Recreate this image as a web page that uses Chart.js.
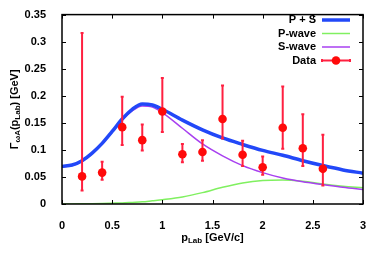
<!DOCTYPE html>
<html>
<head>
<meta charset="utf-8">
<script src="https://cdn.jsdelivr.net/npm/chart.js@4/dist/chart.umd.min.js"></script>
<style>body{margin:0;background:#fff}</style>
</head>
<body>
<canvas id="chart" width="381" height="260"></canvas>
<script>
const CHART = document.getElementById("chart");

// measured points
const pLab = [0.2, 0.4, 0.6, 0.8, 1.0, 1.2, 1.4, 1.6, 1.8, 2.0, 2.2, 2.4, 2.6];
const width = [0.051, 0.058, 0.142, 0.118, 0.171, 0.092, 0.096, 0.157, 0.091, 0.068, 0.141, 0.103, 0.065];
const errLow = [0.025, 0.045, 0.109, 0.099, 0.133, 0.077, 0.080, 0.121, 0.070, 0.054, 0.102, 0.070, 0.034];
const errHigh = [0.316, 0.078, 0.198, 0.147, 0.233, 0.111, 0.118, 0.219, 0.117, 0.088, 0.217, 0.166, 0.128];

// model curves
const pCurve = [0, 0.1, 0.2, 0.3, 0.4, 0.5, 0.6, 0.7, 0.8, 0.9, 1.0, 1.2, 1.4, 1.6, 1.8, 2.0, 2.2, 2.4, 2.6, 2.8, 3.0];
const sumWave = [0.0695, 0.072, 0.080, 0.094, 0.112, 0.134, 0.157, 0.175, 0.185, 0.183, 0.175, 0.155, 0.137, 0.122, 0.110, 0.099, 0.090, 0.080, 0.071, 0.063, 0.057];
const pWave = [0, 0.0001, 0.0003, 0.0006, 0.001, 0.0015, 0.002, 0.003, 0.004, 0.006, 0.008, 0.013, 0.021, 0.031, 0.039, 0.0435, 0.0445, 0.042, 0.037, 0.033, 0.030];
const sWave = [0.069, 0.071, 0.079, 0.093, 0.111, 0.133, 0.155, 0.172, 0.181, 0.179, 0.169, 0.140, 0.111, 0.089, 0.071, 0.058, 0.048, 0.041, 0.036, 0.031, 0.027];

const xTicks = [0, 0.5, 1, 1.5, 2, 2.5, 3];
const yTicks = [0, 0.05, 0.1, 0.15, 0.2, 0.25, 0.3, 0.35];

const BLUE = '#2248f8', GREEN = '#80f060', PURPLE = '#a840f0', RED = '#ff0a0a', BAR = '#ff2040';
const FONT = '"Liberation Sans", Arial, sans-serif';

const pts = (xs, ys) => xs.map((x, i) => ({x: x, y: ys[i]}));

function drawRuns(ctx, runs, cx, cy) {
  let total = 0;
  runs.forEach(r => {
    ctx.font = (r.sub ? 'bold 8px ' : 'bold 11px ') + FONT;
    r.w = ctx.measureText(r.t).width;
    total += r.w;
  });
  let x = cx - total / 2;
  ctx.textAlign = 'left';
  ctx.textBaseline = 'middle';
  runs.forEach(r => {
    ctx.font = (r.sub ? 'bold 8px ' : 'bold 11px ') + FONT;
    ctx.fillText(r.t, x, cy + (r.sub ? 3 : 0));
    x += r.w;
  });
}

const extras = {
  id: 'extras',
  beforeDatasetDraw(chart, args) {
    if (args.index !== 3) return;
    const xs = chart.scales.x, ys = chart.scales.y, ctx = chart.ctx;
    ctx.save();
    ctx.strokeStyle = BAR;
    ctx.lineWidth = 2;
    pLab.forEach((p, i) => {
      const px = xs.getPixelForValue(p);
      const lo = ys.getPixelForValue(errLow[i]), hi = ys.getPixelForValue(errHigh[i]);
      ctx.beginPath();
      ctx.moveTo(px, lo); ctx.lineTo(px, hi);
      ctx.moveTo(px - 1.5, lo); ctx.lineTo(px + 1.5, lo);
      ctx.moveTo(px - 1.5, hi); ctx.lineTo(px + 1.5, hi);
      ctx.stroke();
    });
    ctx.restore();
  },
  afterDraw(chart) {
    const ctx = chart.ctx, a = chart.chartArea;
    const xs = chart.scales.x, ys = chart.scales.y;
    ctx.save();
    ctx.strokeStyle = '#000';
    ctx.lineWidth = 1;
    ctx.beginPath();
    xTicks.forEach(v => {
      const px = Math.round(xs.getPixelForValue(v)) + 0.5;
      ctx.moveTo(px, a.bottom); ctx.lineTo(px, a.bottom - 4);
      ctx.moveTo(px, a.top); ctx.lineTo(px, a.top + 4);
    });
    yTicks.forEach(v => {
      const py = Math.round(ys.getPixelForValue(v)) + 0.5;
      ctx.moveTo(a.left, py); ctx.lineTo(a.left + 4, py);
      ctx.moveTo(a.right, py); ctx.lineTo(a.right - 4, py);
    });
    ctx.stroke();
    ctx.lineWidth = 1.5;
    ctx.strokeRect(a.left, a.top, a.right - a.left, a.bottom - a.top);

    ctx.fillStyle = '#000';
    drawRuns(ctx, [{t: 'p'}, {t: 'Lab', sub: true}, {t: ' [GeV/c]'}], (a.left + a.right) / 2, 238);
    ctx.save();
    ctx.translate(15, (a.top + a.bottom) / 2);
    ctx.rotate(-Math.PI / 2);
    drawRuns(ctx, [{t: 'Γ'}, {t: 'ωA', sub: true}, {t: '(p'}, {t: 'Lab', sub: true}, {t: ') [GeV]'}], 0, 0);
    ctx.restore();

    // legend, gnuplot style: text then sample
    const rows = [20, 33.5, 47, 60.5];
    ctx.font = 'bold 11px ' + FONT;
    ctx.textAlign = 'right';
    ctx.textBaseline = 'middle';
    chart.data.datasets.forEach((ds, i) => {
      const y = rows[i];
      ctx.fillStyle = '#000';
      ctx.fillText(ds.label, 316, y);
      ctx.strokeStyle = i === 3 ? BAR : ds.borderColor;
      ctx.lineWidth = i === 0 ? 3.5 : (i === 3 ? 2 : 1.5);
      ctx.beginPath();
      ctx.moveTo(322, y); ctx.lineTo(350, y);
      if (i === 3) {
        ctx.moveTo(322, y - 1.5); ctx.lineTo(322, y + 1.5);
        ctx.moveTo(350, y - 1.5); ctx.lineTo(350, y + 1.5);
      }
      ctx.stroke();
      if (i === 3) {
        ctx.fillStyle = RED;
        ctx.beginPath();
        ctx.arc(336, y, 4.3, 0, Math.PI * 2);
        ctx.fill();
      }
    });
    ctx.restore();
  }
};

let chart = new Chart(CHART, {
  type: 'scatter',
  data: {
    datasets: [
      {label: 'P + S', data: pts(pCurve, sumWave), showLine: true, borderColor: BLUE, borderWidth: 3.5, pointRadius: 0, cubicInterpolationMode: 'monotone', order: 1},
      {label: 'P-wave', data: pts(pCurve, pWave), showLine: true, borderColor: GREEN, borderWidth: 1.5, pointRadius: 0, cubicInterpolationMode: 'monotone', order: 3},
      {label: 'S-wave', data: pts(pCurve, sWave), showLine: true, borderColor: PURPLE, borderWidth: 1.5, pointRadius: 0, cubicInterpolationMode: 'monotone', order: 2},
      {label: 'Data', data: pts(pLab, width), borderColor: RED, backgroundColor: RED, pointRadius: 4.3, pointBorderWidth: 0, order: 0}
    ]
  },
  options: {
    responsive: false,
    animation: false,
    layout: {padding: {top: 11, right: 18, left: 0, bottom: 0}},
    plugins: {legend: {display: false}, tooltip: {enabled: false}},
    scales: {
      x: {
        type: 'linear', min: 0, max: 3,
        grid: {display: false}, border: {display: false},
        ticks: {stepSize: 0.5, padding: 7, maxRotation: 0, color: '#000', font: {family: FONT, size: 11, weight: 'bold'},
          callback: v => String(Number(v.toFixed(1)))},
        afterFit(s) { s.height = 56; }
      },
      y: {
        min: 0, max: 0.35,
        grid: {display: false}, border: {display: false},
        ticks: {stepSize: 0.05, padding: 8, color: '#000', font: {family: FONT, size: 11, weight: 'bold'},
          callback: v => String(Number(v.toFixed(2)))},
        afterFit(s) { s.width = 62; }
      }
    }
  },
  plugins: [extras]
});
</script>
</body>
</html>
